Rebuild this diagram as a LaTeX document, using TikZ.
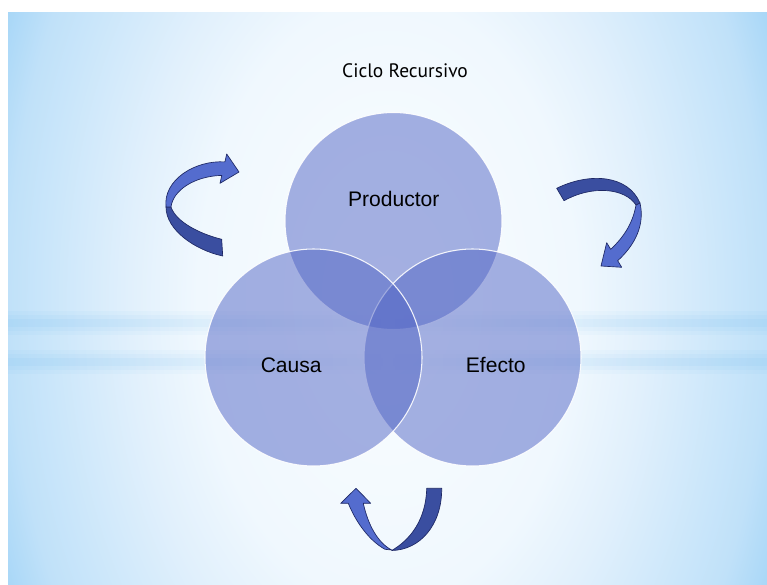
\documentclass[tikz,border=0pt]{standalone}
\usepackage{fontspec}
\setmainfont{Liberation Sans}
\newfontfamily\titlefont{PT Sans}
\usepackage{xcolor}
\usepackage{tikz}
\usetikzlibrary{fadings}
\definecolor{bgw}{RGB}{250,253,255}
\definecolor{bgl}{RGB}{240,248,254}
\definecolor{bgm}{RGB}{225,240,252}
\definecolor{bgn}{RGB}{202,230,250}
\definecolor{bgo}{RGB}{192,225,249}
\definecolor{bgb}{RGB}{166,214,247}
\definecolor{streak}{RGB}{150,205,245}
\definecolor{vennblue}{RGB}{80,100,197}
\definecolor{arrowdark}{RGB}{58,78,160}
\definecolor{arrowlight}{RGB}{84,108,206}
\definecolor{arrowline}{RGB}{30,40,100}
\pgfdeclareradialshading{bgglow}{\pgfpoint{0bp}{0bp}}{color(0bp)=(bgw); color(12.5bp)=(bgl); color(17bp)=(bgm); color(22.5bp)=(bgn); color(25bp)=(bgo); color(28bp)=(bgb); color(50bp)=(bgb)}
\tikzfading[name=sidefade, left color=transparent!0, right color=transparent!0, middle color=transparent!100]

\begin{document}
\begin{tikzpicture}
	[x=0.75pt,y=-0.75pt,
	venn/.style={circle,minimum size=162.75pt,inner sep=0pt,fill=vennblue,fill opacity=0.5,draw=white,draw opacity=0.9,line width=0.8pt},
	lbl/.style={anchor=base,font=\fontsize{15.8}{19}\selectfont},
	back/.style={fill=arrowdark,draw=arrowline,line width=0.5pt,line join=round},
	front/.style={fill=arrowlight,draw=arrowline,line width=0.5pt,line join=round}]
	\useasboundingbox (0,0) rectangle (767,585);
	%%%%% BACKGROUND
	\begin{scope}
	\clip (8,13) rectangle (767,585);
	\shade[shading=bgglow] (8,-300) rectangle (767,900);
	\foreach \yc in {323,362}
	{
	\foreach \h/\o in {12/0.12,8/0.15,4/0.2}
	{
	\fill[streak,path fading=sidefade,opacity=\o] (8,\yc-\h) rectangle (767,\yc+\h);
	};
	};
	\end{scope}
	%%%%% CIRCLES
	\node[venn] (productor) at (393.5,221) {};
	\node[venn] (efecto) at (472.5,357.5) {};
	\node[venn] (causa) at (313.5,357.5) {};
	%%%%% LABELS
	\node[lbl] (productortxt) at (393.8,206) {Productor};
	\node[lbl] (causatxt) at (291.2,372.3) {Causa};
	\node[lbl] (efectotxt) at (495.8,372.3) {Efecto};
	\node[anchor=base,font=\titlefont\fontsize{14.6}{17}\selectfont] (titulo) at (405,77.3) {Ciclo Recursivo};
	%%%%% ARROW LEFT
	\draw[back] (166,207) .. controls (166,230) and (195,250) .. (222.7,256) -- (221.7,239.3)
		.. controls (200,234) and (176,222) .. (171,207) -- cycle;
	\draw[front] (166,207) .. controls (163,180) and (195,160) .. (224.9,161.9) -- (226.7,154)
		-- (239,172) -- (220,183.3) -- (221.8,175.4) .. controls (195,176) and (173,190) .. (171,207) -- cycle;
	%%%%% ARROW RIGHT
	\draw[back] (556.7,188.3) .. controls (590,172) and (628,175) .. (640,203) -- (636,205)
		.. controls (625,188) and (592,185) .. (564,200.7) -- cycle;
	\draw[front] (640,203) .. controls (645,225) and (635,245) .. (617.7,260.7) -- (621.7,267.3)
		-- (601,266) -- (606.7,242.7) -- (610.7,249.3) .. controls (625,236) and (633,222) .. (636,205) -- cycle;
	%%%%% ARROW BOTTOM
	\draw[back] (426.7,488.3) -- (441.7,488.3) .. controls (442,525) and (420,550) .. (391.7,550.5)
		.. controls (410,540) and (426,520) .. (426.7,488.3) -- cycle;
	\draw[front] (391.7,550) .. controls (378,543) and (368,525) .. (363.3,503.3) -- (370.7,503.3)
		-- (356,488.3) -- (340.7,503.3) -- (348.3,503.3) .. controls (355,520) and (368,540) .. (385,549.3) -- cycle;
\end{tikzpicture}
\end{document}
